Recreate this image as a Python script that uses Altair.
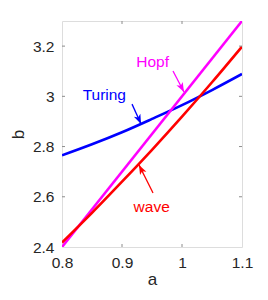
import altair as alt
import pandas as pd

# ---- data ----
turing_a = [0.8, 0.85, 0.9, 0.95, 1.0, 1.05, 1.1]
turing_b = [2.765, 2.809, 2.857, 2.910, 2.965, 3.025, 3.089]
hopf_a = [0.8, 1.1]
hopf_b = [2.40, 3.30]
wave_a = [0.8, 0.85, 0.9, 0.95, 1.0, 1.05, 1.1]
wave_b = [2.418, 2.536, 2.660, 2.787, 2.919, 3.056, 3.198]

x_ticks = [0.8, 0.9, 1.0, 1.1]
y_ticks = [2.4, 2.6, 2.8, 3.0, 3.2]
x_inner = [0.9, 1.0]
y_inner = [2.6, 2.8, 3.0, 3.2]

labels = ["Hopf", "Turing", "wave"]
label_a = [0.951, 0.8705, 0.9495]
label_b = [3.118, 2.985, 2.541]
label_colors = ["#ff00ff", "#0000ff", "#ff0000"]
arrow_a0 = [0.985, 0.9167, 0.9517]
arrow_b0 = [3.101, 2.969, 2.615]
arrow_a1 = [1.0033, 0.9317, 0.9283]
arrow_b1 = [3.017, 2.890, 2.727]
arrow_angle = [332.4, 335.8, 153.4]

W, H = 180, 226
FONT = "Liberation Sans"

xs = alt.Scale(domain=[0.8, 1.1], nice=False, zero=False)
ys = alt.Scale(domain=[2.4, 3.3], nice=False, zero=False)

curves = pd.concat([
    pd.DataFrame({"a": turing_a, "b": turing_b, "s": "Turing"}),
    pd.DataFrame({"a": hopf_a, "b": hopf_b, "s": "Hopf"}),
    pd.DataFrame({"a": wave_a, "b": wave_b, "s": "wave"}),
])
ann = pd.DataFrame({"t": labels, "a": label_a, "b": label_b, "c": label_colors,
                    "a0": arrow_a0, "b0": arrow_b0, "a1": arrow_a1, "b1": arrow_b1,
                    "ang": arrow_angle})

color = alt.Color("s:N", scale=alt.Scale(domain=["Turing", "Hopf", "wave"],
                                         range=["#0000ff", "#ff00ff", "#ff0000"]), legend=None)

axis_common = dict(format=".1~f", domain=False, ticks=False, grid=False,
                   labelFont=FONT, labelFontSize=15.5, labelColor="#262626",
                   labelPadding=8, labelFlush=False, labelOverlap=False,
                   titleFont=FONT, titleFontSize=17, titleFontWeight="normal",
                   titleColor="#262626")

base = alt.Chart(curves).mark_line(strokeWidth=2.6, clip=True, interpolate="monotone").encode(
    x=alt.X("a:Q", scale=xs, title="a",
            axis=alt.Axis(values=x_ticks, titlePadding=1, **axis_common)),
    y=alt.Y("b:Q", scale=ys, title="b",
            axis=alt.Axis(values=y_ticks, titlePadding=5, **axis_common)),
    color=color,
    detail="s:N",
)

xt = pd.DataFrame({"a": x_inner})
yt = pd.DataFrame({"b": y_inner})
tick_style = dict(color="#8c8c8c", strokeWidth=1)
xtick_bot = alt.Chart(xt).mark_rule(**tick_style).encode(
    x=alt.X("a:Q", scale=xs), y=alt.value(H), y2=alt.value(H - 3))
xtick_top = alt.Chart(xt).mark_rule(**tick_style).encode(
    x=alt.X("a:Q", scale=xs), y=alt.value(0), y2=alt.value(3))
ytick_l = alt.Chart(yt).mark_rule(**tick_style).encode(
    y=alt.Y("b:Q", scale=ys), x=alt.value(0), x2=alt.value(3))
ytick_r = alt.Chart(yt).mark_rule(**tick_style).encode(
    y=alt.Y("b:Q", scale=ys), x=alt.value(W), x2=alt.value(W - 3))

arrows = alt.Chart(ann).mark_rule(strokeWidth=1.3).encode(
    x=alt.X("a0:Q", scale=xs), y=alt.Y("b0:Q", scale=ys),
    x2="a1:Q", y2="b1:Q",
    color=alt.Color("c:N", scale=None))
heads = alt.Chart(ann).mark_point(
    shape="M0,0 L-0.75,-2 L0,-1.5 L0.75,-2 Z", filled=True, size=90, opacity=1
).encode(
    x=alt.X("a1:Q", scale=xs), y=alt.Y("b1:Q", scale=ys),
    angle=alt.Angle("ang:Q", scale=None),
    color=alt.Color("c:N", scale=None))
texts = alt.Chart(ann).mark_text(font=FONT, fontSize=15.5, align="center",
                                 baseline="alphabetic").encode(
    x=alt.X("a:Q", scale=xs), y=alt.Y("b:Q", scale=ys), text="t:N",
    color=alt.Color("c:N", scale=None))

chart = alt.layer(base, xtick_bot, xtick_top, ytick_l, ytick_r, arrows, heads, texts).properties(
    width=W, height=H,
    autosize=alt.AutoSizeParams(type="none"),
    padding={"left": 54, "top": 13, "right": 14, "bottom": 45},
).configure_view(stroke="#999999", strokeWidth=1).configure(background="white")

chart.save("out.html", embed_options={"renderer": "svg", "actions": False})
